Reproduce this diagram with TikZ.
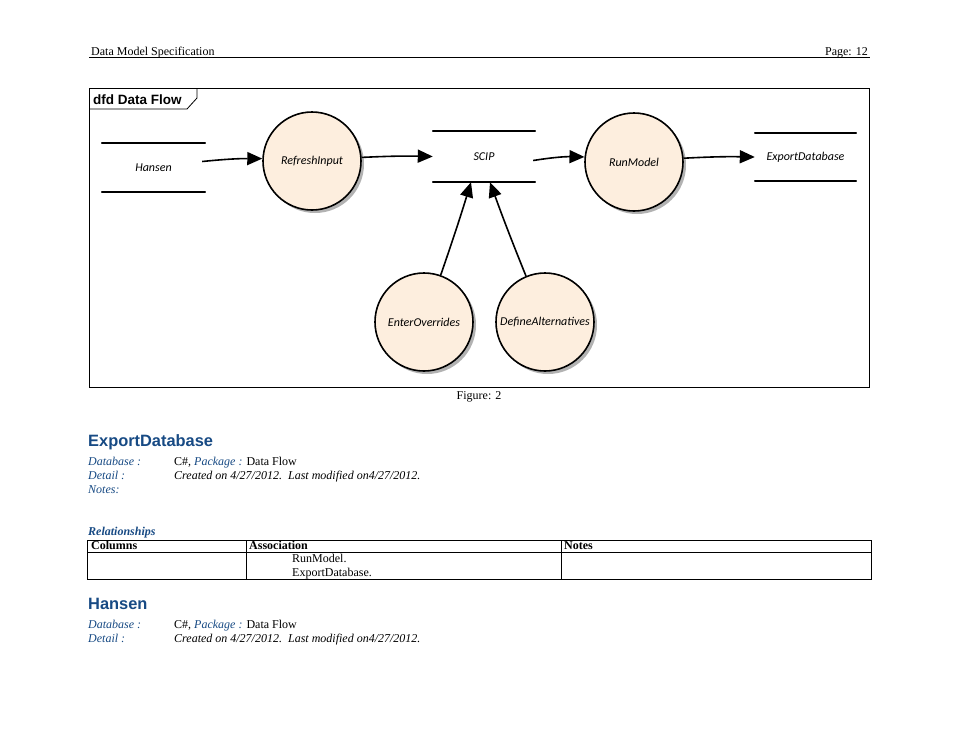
\documentclass[tikz,border=0pt]{standalone}
\usepackage{fontspec}
\setmainfont{Liberation Serif}
\setsansfont{Liberation Sans}
\newfontfamily\handfont{Carlito}
\usetikzlibrary{arrows.meta,shadows}
\definecolor{headblue}{RGB}{23,74,132}
\definecolor{peach}{RGB}{253,238,222}

\begin{document}
\begin{tikzpicture}[x=1pt,y=-1pt,
  process/.style={circle, draw, line width=1.6pt, fill=peach, minimum size=98pt,
    inner sep=0pt, font=\handfont\itshape\fontsize{12}{14}\selectfont,
    drop shadow={shadow xshift=3pt, shadow yshift=-3pt, fill=black, opacity=0.3}},
  store/.style={inner sep=0pt, font=\handfont\itshape\fontsize{12}{14}\selectfont},
  storeline/.style={line width=1.5pt, line cap=round},
  flow/.style={line width=1.6pt, -{Triangle[length=15pt,width=13pt]}},
  body/.style={anchor=base west, inner sep=0pt, font=\fontsize{12}{14}\selectfont},
  lbl/.style={anchor=base west, inner sep=0pt, text=headblue, font=\itshape\fontsize{12}{14}\selectfont},
  heading/.style={anchor=base west, inner sep=0pt, text=headblue,
    font=\sffamily\bfseries\fontsize{16.4}{18}\selectfont},
  thead/.style={anchor=base west, inner sep=0pt, font=\bfseries\fontsize{12}{14}\selectfont},
]
\useasboundingbox (0,0) rectangle (958,740);
\fill[white] (0,0) rectangle (958,740);

% page header
\node[body] (title) at (91,55) {Data Model Specification};
\node[body, anchor=base east] (page) at (868,55) {Page: 12};
\draw[line width=0.8pt] (89,57.5) -- (870,57.5);

% diagram frame with its name tab
\draw[line width=0.8pt] (89,88) rectangle (869,387);
\draw[line width=0.8pt] (89,109) -- (187,109) -- (197,98) -- (197,88);
\node[anchor=base west, inner sep=0pt, font=\sffamily\bfseries\fontsize{13.5}{15}\selectfont]
  (dfd) at (93,104) {dfd Data Flow};

% data stores
\node[store, minimum width=103pt, minimum height=49pt] (hansen) at (153.5,167.5) {Hansen};
\node[store, minimum width=102pt, minimum height=51pt] (scip) at (484,156.5) {SCIP};
\node[store, minimum width=101pt, minimum height=48pt] (export) at (805.5,157) {ExportDatabase};
\foreach \s in {hansen,scip,export} {
  \draw[storeline] (\s.north west) -- (\s.north east);
  \draw[storeline] (\s.south west) -- (\s.south east);
}

% processes
\node[process] (refresh) at (312,161) {RefreshInput};
\node[process] (run) at (634,162) {RunModel};
\node[process] (enter) at (424,322) {EnterOverrides};
\node[process] (define) at (545,322) {DefineAlternatives};

% data flows
\draw[flow] ([shift={(-3pt,6pt)}]hansen.east) to[bend left=3] (refresh);
\draw[flow] (refresh) to[bend left=2] (scip.west);
\draw[flow] ([shift={(-2pt,-4pt)}]scip.east) to[bend left=5] (run);
\draw[flow] (run) to[bend left=2] (export.west);
\draw[flow] (enter) to[bend right=1] ([xshift=-13pt]scip.south);
\draw[flow] (define) to[bend left=1] ([xshift=6pt]scip.south);

\node[anchor=base, inner sep=0pt, font=\fontsize{12}{14}\selectfont] (fig) at (479,399) {Figure: 2};

% ExportDatabase element
\node[heading] (h1) at (88,446) {ExportDatabase};
\node[lbl] (db1) at (88,465) {Database :};
\node[body] (db1v) at (174,465) {C\#, \textcolor{headblue}{\itshape Package :} Data Flow};
\node[lbl] (dt1) at (88,479) {Detail :};
\node[body, font=\itshape\fontsize{12}{14}\selectfont] (dt1v) at (174,479) {Created on 4/27/2012.\ \ Last modified on4/27/2012.};
\node[lbl] (nt1) at (88,493) {Notes:};

\node[anchor=base west, inner sep=0pt, text=headblue,
  font=\bfseries\itshape\fontsize{12}{14}\selectfont] (rel) at (88,535) {Relationships};

% relationships table
\draw[line width=0.8pt] (87,540) rectangle (871,579);
\draw[line width=0.8pt] (87,552) -- (871,552);
\draw[line width=0.8pt] (246,540) -- (246,579);
\draw[line width=0.8pt] (561,540) -- (561,579);
\node[thead] (c1) at (91,549) {Columns};
\node[thead] (c2) at (249,549) {Association};
\node[thead] (c3) at (564,549) {Notes};
\node[body] (r1) at (292,562) {RunModel.};
\node[body] (r2) at (292,576) {ExportDatabase.};

% Hansen element
\node[heading] (h2) at (88,609) {Hansen};
\node[lbl] (db2) at (88,628) {Database :};
\node[body] (db2v) at (174,628) {C\#, \textcolor{headblue}{\itshape Package :} Data Flow};
\node[lbl] (dt2) at (88,642) {Detail :};
\node[body, font=\itshape\fontsize{12}{14}\selectfont] (dt2v) at (174,642) {Created on 4/27/2012.\ \ Last modified on4/27/2012.};
\end{tikzpicture}
\end{document}
